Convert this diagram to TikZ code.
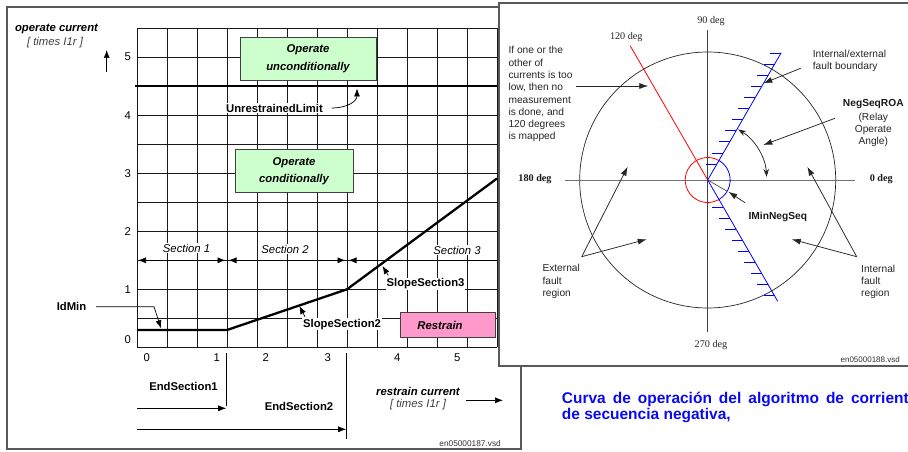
\documentclass[tikz,border=0pt]{standalone}
\usepackage{fontspec}
\setmainfont{Liberation Sans}
\newfontfamily\timesf{Liberation Serif}
\usetikzlibrary{arrows.meta,calc}
\definecolor{gfill}{RGB}{204,255,204}
\definecolor{pfill}{RGB}{255,153,204}
\definecolor{capblue}{RGB}{10,10,240}
\begin{document}
\begin{tikzpicture}[x=1pt,y=-1pt,
  lf/.style={font=\fontsize{11.3}{13.5}\selectfont, inner sep=0.6pt},
  lfb/.style={font=\fontsize{11.3}{13.5}\selectfont\bfseries, inner sep=0.6pt},
  lfi/.style={font=\fontsize{11.3}{13.5}\selectfont\itshape, inner sep=0.6pt},
  lfbi/.style={font=\fontsize{11.3}{13.5}\selectfont\bfseries\itshape, inner sep=0.6pt},
  rf/.style={font=\fontsize{10.2}{12.3}\selectfont, inner sep=0pt, text=black!85},
  rfb/.style={font=\fontsize{10.2}{12.3}\selectfont\bfseries, inner sep=0pt, text=black!90},
  degf/.style={font=\fontsize{10.2}{12}\selectfont\timesf, inner sep=0pt, text=black!85},
  degb/.style={font=\fontsize{10.2}{12}\selectfont\timesf\bfseries, inner sep=0pt, text=black!90},
  gridl/.style={line width=0.65pt, black!90},
  arr/.style={-{Latex[length=8pt,width=6pt]}, line width=0.7pt},
  darr/.style={{Latex[length=8pt,width=6pt]}-{Latex[length=8pt,width=6pt]}, line width=0.7pt},
  ptr/.style={-{Latex[length=9pt,width=6pt]}, line width=0.75pt, black!85},
  gbox/.style={draw=black!75, line width=0.7pt, fill=gfill, align=center, inner sep=0pt,
     font=\fontsize{11.3}{17.5}\selectfont\bfseries\itshape},
  pbox/.style={draw=black!75, line width=0.8pt, fill=pfill, inner sep=0pt},
  frame/.style={draw=black!65, line width=1.4pt},
  axisl/.style={line width=0.9pt, black!55},
  hatch/.style={blue, line width=0.7pt}
]
\useasboundingbox (0,0) rectangle (908,452);
% ---------------- left panel ----------------
\draw[frame] (7,7) rectangle (521,449);
\foreach \i in {0,...,12} \draw[gridl] ({137+30*\i},28.3) -- ({137+30*\i},347.3);
\foreach \j in {0,...,11} \draw[gridl] (137,{28.3+29*\j}) -- (497,{28.3+29*\j});

% axis titles
\node[lfbi] (oc) at (56.5,29) {operate current};
\node[lfi, text=black!75] (ocu) at (55,42.7) {[ times I1r ]};
\coordinate (up0) at (106.7,72);
\coordinate (up1) at (106.7,50);
\draw[arr] (up0) -- (up1);

% y numbers
\node[lf] (y5) at (127.7,57) {5};
\node[lf] (y4) at (127.7,115.3) {4};
\node[lf] (y3) at (127.7,173.3) {3};
\node[lf] (y2) at (127.7,231.7) {2};
\node[lf] (y1) at (127.7,289.3) {1};
\node[lf] (y0) at (127.7,340) {0};
% x numbers
\node[lf] (x0) at (146.7,357.5) {0};
\node[lf] (x1) at (216.7,357.5) {1};
\node[lf] (x2) at (265.7,357.5) {2};
\node[lf] (x3) at (327.7,357.5) {3};
\node[lf] (x4) at (397.3,357.5) {4};
\node[lf] (x5) at (457.3,357.5) {5};

% sections
\coordinate (s1a) at (138,260.3); \coordinate (s1b) at (225.5,260.3);
\coordinate (s2a) at (228.5,260.3); \coordinate (s2b) at (345.5,260.3);
\coordinate (s3a) at (348.5,260.3); \coordinate (s3b) at (497,260.3);
\draw[darr] (s1a) -- (s1b);
\draw[darr] (s2a) -- (s2b);
\draw[{Latex[length=8pt,width=6pt]}-, line width=0.7pt] (s3a) -- (s3b);
\node[lfi, fill=white] (sec1) at (186.5,248) {Section 1};
\node[lfi, fill=white] (sec2) at (285,249) {Section 2};
\node[lfi, fill=white] (sec3) at (457,250) {Section 3};

% unrestrained limit
\draw[line width=2.3pt] (135,86.3) -- (497,86.3);
\node[lfb, fill=white] (ul) at (274.5,108) {UnrestrainedLimit};
\coordinate (ulB) at (357,88.5);
\draw[arr] ([xshift=8pt]ul.east) .. controls +(17,0) and +(0,12) .. (ulB);

% operate boxes
\node[gbox, minimum width=136pt, minimum height=43pt] (ou) at (308,58.5) {Operate\\unconditionally};
\node[gbox, minimum width=118pt, minimum height=43.5pt] (oc2) at (294,171) {Operate\\conditionally};

% characteristic
\coordinate (c0) at (137,330); \coordinate (c1) at (227,330);
\coordinate (c2) at (347,289.3); \coordinate (c3) at (497,178.5);
\draw[line width=2.3pt, line join=miter] (c0) -- (c1) -- (c2) -- (c3);

% IdMin
\node[lfb] (idmin) at (71.5,306.7) {IdMin};
\coordinate (i1) at (154,306.7); \coordinate (i2) at (161,328.3);
\draw[arr] ([xshift=9pt]idmin.east) -- (i1) -- (i2);

% slopes
\node[lfb, fill=white] (ss3) at (425.5,284) {SlopeSection3};
\coordinate (ss3a) at (388.3,275.5); \coordinate (ss3b) at (382.5,266);
\draw[arr] (ss3a) -- (ss3b);
\node[lfb, fill=white] (ss2) at (342,324.3) {SlopeSection2};
\coordinate (ss2a) at (305,316.7); \coordinate (ss2b) at (299.3,306);
\draw[arr] (ss2a) -- (ss2b);

% restrain box
\node[pbox, minimum width=94.3pt, minimum height=25pt] (rb) at (447.9,325.2) {};
\node[lfbi] (rt) at (440,325.5) {Restrain};

% end sections
\coordinate (t1a) at (226.7,353); \coordinate (t1b) at (226.7,406);
\coordinate (t2a) at (346.7,353); \coordinate (t2b) at (346.7,439.3);
\draw[line width=0.7pt] (t1a) -- (t1b);
\draw[line width=0.7pt] (t2a) -- (t2b);
\node[lfb] (es1) at (183.5,386) {EndSection1};
\coordinate (e1a) at (137,408.3); \coordinate (e1b) at (226.2,408.3);
\draw[arr] (e1a) -- (e1b);
\node[lfb] (es2) at (299,406.7) {EndSection2};
\coordinate (e2a) at (137,429.3); \coordinate (e2b) at (346.2,429.3);
\draw[arr] (e2a) -- (e2b);

\node[lfbi] (rc) at (418,391.7) {restrain current};
\node[lfi, text=black!75] (rcu) at (418,404.3) {[ times I1r ]};
\coordinate (ra) at (466,400.3); \coordinate (rb2) at (503,400.3);
\draw[arr] (ra) -- (rb2);
\node[font=\fontsize{8.3}{9}\selectfont, inner sep=0pt, anchor=east, text=black!80] (vsd1) at (501,444) {en05000187.vsd};

% ---------------- right panel ----------------
\draw[frame, fill=white] (499,3) rectangle (914,366);
\coordinate (O) at (707.7,180);
\draw[line width=0.7pt, black!85] (O) circle[radius=128pt];
\coordinate (hl) at (565,180); \coordinate (hr) at (855,180);
\coordinate (vt) at (707.7,30); \coordinate (vb) at (707.7,331.7);
\draw[axisl] (hl) -- (hr);
\draw[line width=0.7pt, black!75] (vt) -- (vb);

\node[degf] (d90) at (711,20.7) {90 deg};
\node[degf] (d120) at (626.3,36.7) {120 deg};
\node[degb] (d180) at (535,179.5) {180 deg};
\node[degb] (d0) at (881.3,179.5) {0 deg};
\node[degf] (d270) at (711,345) {270 deg};

% red line and red circle part
\draw[red, line width=0.8pt] (O) -- ++(120:155pt);
\draw[red, line width=0.8pt] ($(O)+(60:22.5pt)$) arc[start angle=60, end angle=300, radius=22.5pt];
\draw[blue, line width=0.8pt] ($(O)+(-60:22.5pt)$) arc[start angle=-60, end angle=60, radius=22.5pt];
\draw[black!70, line width=0.7pt] (O) -- ++(-30:22.5pt);

% blue boundary
\draw[blue, line width=0.8pt] ($(O)+(60:147pt)$) -- (O) -- ($(O)+(-60:140pt)$);
\foreach \k in {0,...,10} {
  \pgfmathsetmacro{\yy}{53+11.1*\k}
  \draw[hatch] ({707.7+(180-\yy)*0.57735},\yy) -- ++(-11,0);
}
\foreach \k in {0,...,8} {
  \pgfmathsetmacro{\yy}{207+11.1*\k}
  \draw[hatch] ({707.7+(\yy-180)*0.57735},\yy) -- ++(-11,0);
}

% ROA arc
\draw[{Stealth[length=8pt,width=5.5pt]}-{Stealth[length=8pt,width=5.5pt]}, line width=0.75pt, black!85]
  ($(O)+(59:59pt)$) arc[start angle=59, end angle=3, radius=59pt];

% texts right
\node[rf, anchor=north west, align=left] (note) at (508.3,46.3)
  {If one or the\\other of\\currents is too\\low, then no\\measurement\\is done, and\\120 degrees\\is mapped};
\coordinate (n1) at (576,86); \coordinate (n2) at (648.3,86);
\draw[ptr] (n1) -- (n2);

\node[rf, anchor=north west, align=left, font=\fontsize{10.2}{12.7}\selectfont] (ieb) at (812.7,49.6)
  {Internal/external\\fault boundary};
\coordinate (b1) at (800.7,68.3); \coordinate (b2) at (763.3,83.3);
\draw[ptr] (b1) -- (b2);

\node[rfb] (nsr) at (873.3,104.3) {NegSeqROA};
\node[rf, anchor=north, align=center, font=\fontsize{10.2}{11.8}\selectfont] (roa) at (873.3,113)
  {(Relay\\Operate\\Angle)};
\coordinate (r1) at (835,118.3); \coordinate (r2) at (763.3,145);
\draw[ptr] (r1) -- (r2);

\node[rfb] (imn) at (777.8,216.7) {IMinNegSeq};
\coordinate (m1) at (745,202.7); \coordinate (m2) at (728.3,191.7);
\draw[ptr] (m1) -- (m2);

\node[rf, anchor=north west, align=left, font=\fontsize{10.2}{12.5}\selectfont] (efr) at (542.3,264)
  {External\\fault\\region};
\coordinate (ev) at (581.7,256.7);
\coordinate (ea) at (627.7,166.7); \coordinate (eb) at (646.7,239.3);
\draw[ptr] (ev) -- (ea);
\draw[ptr] (ev) -- (eb);

\node[rf, anchor=north west, align=left, font=\fontsize{10.2}{12.2}\selectfont] (ifr) at (861,264.6)
  {Internal\\fault\\region};
\coordinate (iv) at (856.7,256.7);
\coordinate (ia) at (807.3,166.7); \coordinate (ib) at (791.7,239.3);
\draw[ptr] (iv) -- (ia);
\draw[ptr] (iv) -- (ib);

\node[font=\fontsize{8}{9}\selectfont, inner sep=0pt, anchor=east, text=black!80] (vsd2) at (900,360) {en05000188.vsd};

% caption
\node[anchor=north west, align=left, inner sep=0pt, text=capblue,
  font=\fontsize{15.5}{16.3}\selectfont\bfseries] (cap) at (561.7,391.5)
  {{\spaceskip=7pt Curva de operación del algoritmo de corriente}\\de secuencia negativa,};
\end{tikzpicture}
\end{document}
